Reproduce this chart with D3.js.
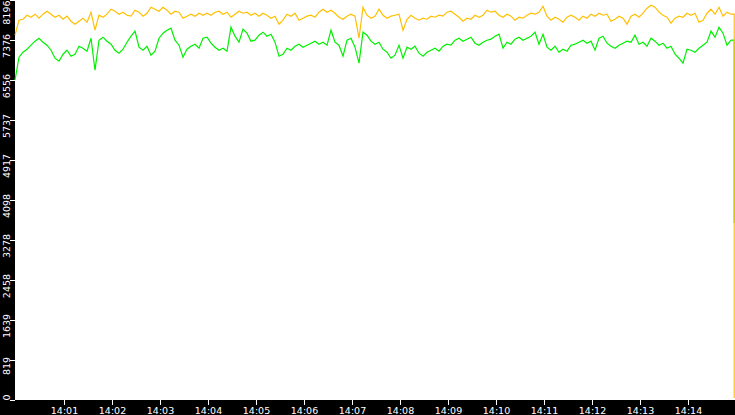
<!DOCTYPE html>
<html><head><meta charset="utf-8">
<script src="https://cdn.jsdelivr.net/npm/d3@7"></script>
<style>
html,body{margin:0;padding:0;background:#000;}
svg{display:block;}
text{font-family:"DejaVu Sans",sans-serif;font-size:9.5px;fill:#fff;}
</style></head>
<body>
<svg id="chart" width="735" height="415"></svg>
<script>
// ---- data ----
const startTime = "13:59:59";   // first sample
const endTime = "14:14:59";     // right edge of the plot
const stepSeconds = 5;          // sample spacing
const dropTime = "14:14:58";    // final sample where both series fall
const yTickValues = [0, 819, 1639, 2458, 3278, 4098, 4917, 5737, 6556, 7376, 8196];
const xTickLabels = ["14:01","14:02","14:03","14:04","14:05","14:06","14:07","14:08","14:09","14:10","14:11","14:12","14:13","14:14"];

const orangeValues = [7465,7772,7792,7874,7833,7895,7813,7895,7956,7895,7833,7874,7792,7854,7751,7690,7751,7813,7731,7936,
7567,7874,7833,7895,7997,7956,7895,7936,7874,7854,7977,7936,7854,7915,8038,7997,7956,8038,7977,7895,
7956,7936,7813,7854,7895,7854,7915,7874,7915,7874,7936,7956,7895,7936,7833,7895,7956,7915,7936,7874,
7915,7854,7915,7874,7813,7854,7690,7772,7895,7854,7915,7772,7813,7854,7874,7833,7936,7997,7936,7977,
7915,7833,7792,7854,7895,7854,7403,8038,7874,7813,7854,7997,7874,7813,7854,7874,7895,7567,7792,7874,
7813,7772,7813,7792,7854,7833,7874,7854,7936,7956,7895,7833,7751,7813,7792,7874,7833,7874,7977,7936,
7956,7874,7833,7895,7854,7772,7833,7813,7874,7915,7895,7936,8059,7854,7772,7833,7792,7731,7833,7874,
7833,7772,7854,7813,7895,7854,7915,7874,7895,7751,7792,7854,7813,7690,7854,7895,7833,7915,8018,8080,
8038,7936,7874,7833,7710,7813,7854,7833,7915,7874,7915,7731,7772,7915,7997,7895,8038,7854,7936,7895];
const orangeDrop = 30;

const greenValues = [6542,7014,7116,7178,7260,7342,7403,7321,7260,7157,6993,6932,7075,7157,7034,7075,7239,7198,7137,7403,
6747,7362,7424,7342,7280,7157,7096,7178,7321,7444,7547,7219,7157,7239,7055,7137,7403,7506,7567,7608,
7362,7260,7014,7178,7239,7280,7198,7403,7424,7301,7219,7157,7198,7137,7629,7444,7321,7588,7506,7342,
7362,7465,7526,7444,7485,7321,7034,7075,7198,7157,7239,7280,7219,7260,7301,7342,7280,7321,7260,7567,
7321,7260,7034,7362,7403,7219,6891,7526,7465,7342,7280,7321,7178,7116,6993,7055,7260,6993,7219,7178,
7239,7096,7034,7116,7157,7198,7137,7239,7280,7260,7362,7403,7342,7383,7424,7301,7260,7321,7362,7383,
7444,7485,7198,7321,7280,7383,7424,7362,7403,7444,7526,7280,7485,7219,7157,7239,7116,7178,7137,7260,
7280,7321,7362,7301,7342,7157,7403,7444,7301,7239,7198,7260,7301,7342,7321,7465,7280,7321,7239,7403,
7342,7260,7301,7198,7239,7075,6993,6891,7178,7157,7116,7198,7260,7321,7547,7424,7629,7506,7260,7362];
const greenDrop = 3614;

// ---- layout ----
const W = 735, H = 415;
const plot = {left: 15, right: 735, top: 0, bottom: 400};
const parse = d3.timeParse("%Y-%m-%d %H:%M:%S");
const day = "2024-01-01 ";
const t0 = parse(day + startTime), t1 = parse(day + endTime), tDrop = parse(day + dropTime);

const x = d3.scaleTime().domain([t0, t1]).range([plot.left, plot.right]);
const y = d3.scaleLinear().domain([0, 8196]).range([399.5, -0.5]);

const svg = d3.select("#chart");
svg.append("rect").attr("width", W).attr("height", H).attr("fill", "#000");
svg.append("rect").attr("x", plot.left).attr("y", plot.top)
  .attr("width", plot.right - plot.left).attr("height", plot.bottom - plot.top).attr("fill", "#fff");

function build(values) {
  return values.map((v, i) => ({t: d3.timeSecond.offset(t0, i * stepSeconds), v}));
}
const line = d3.line().x(d => x(d.t)).y(d => y(d.v));
const stepLine = d3.line().curve(d3.curveStepAfter).x(d => x(d.t)).y(d => y(d.v));

const gPlot = svg.append("g");
[[greenValues, greenDrop, "#00f000"], [orangeValues, orangeDrop, "#ffc000"]].forEach(([vals, drop, col]) => {
  const pts = build(vals);
  const g = gPlot.append("g").attr("fill", "none").attr("stroke", col).attr("stroke-width", 1.2);
  g.append("path").datum(pts).attr("d", line);
  // final fall to the last sample, drawn as a step
  const tail = [pts[pts.length - 1], {t: tDrop, v: drop}];
  g.append("path").datum(tail).attr("d", stepLine);
});

// ---- x axis ----
const xTickDates = xTickLabels.map(s => parse(day + s + ":00"));
const xAxis = d3.axisBottom(x).tickValues(xTickDates).tickFormat(d3.timeFormat("%H:%M")).tickSize(5).tickPadding(2);
const gx = svg.append("g").attr("transform", `translate(0,${plot.bottom})`).call(xAxis);
gx.select(".domain").remove();
gx.selectAll(".tick").attr("transform", d => `translate(${Math.round(x(d)) + 0.5},0)`);
gx.selectAll(".tick line").attr("stroke", "#fff").attr("shape-rendering", "crispEdges");
gx.selectAll(".tick text").attr("fill", "#fff").attr("font-family", "DejaVu Sans").attr("font-size", "9.5px")
  .attr("dy", null).attr("y", 13.5);

// ---- y axis ----
const yAxis = d3.axisLeft(y).tickValues(yTickValues).tickFormat(d3.format("d")).tickSize(5);
const gy = svg.append("g").attr("transform", `translate(${plot.left},0)`).call(yAxis);
gy.select(".domain").remove();
gy.selectAll(".tick line").attr("stroke", "#fff").attr("shape-rendering", "crispEdges");
gy.selectAll(".tick").each(function(d) {
  const tick = d3.select(this);
  const txt = tick.select("text");
  txt.attr("fill", "#fff").attr("font-family", "DejaVu Sans").attr("font-size", "9.5px")
     .attr("text-anchor", "middle").attr("dy", null).attr("x", null).attr("y", null);
  const len = txt.node().getComputedTextLength();
  const ty = y(d);
  let cy = ty + 6;
  cy = Math.max(len / 2, Math.min(plot.bottom - len / 2, cy));
  txt.attr("transform", `translate(-5,${cy - ty}) rotate(-90)`);
});
</script>
</body></html>
